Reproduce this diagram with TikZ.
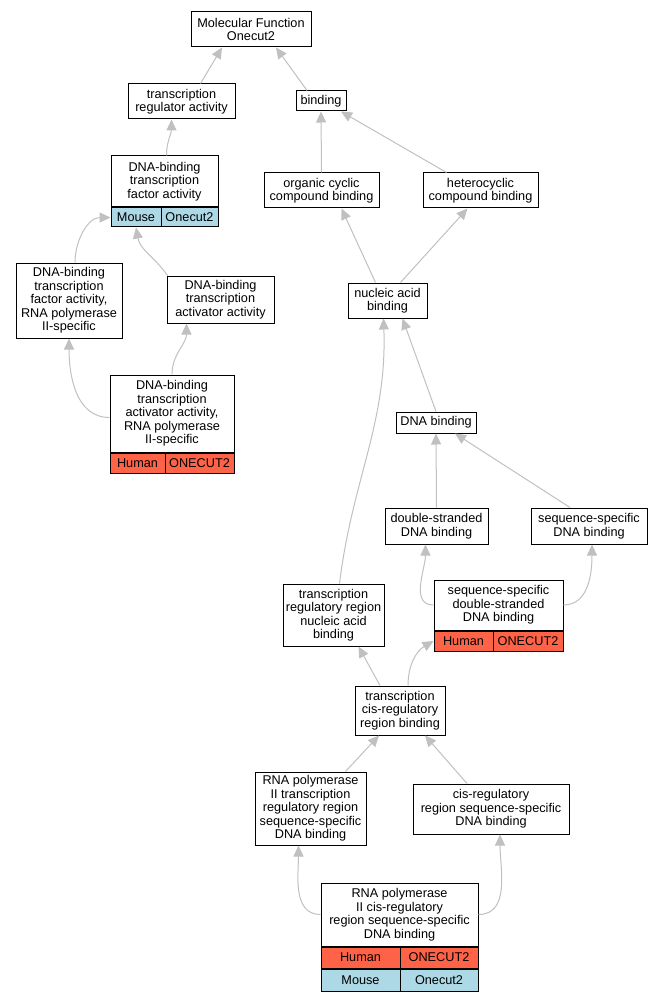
\documentclass[tikz,border=0pt]{standalone}
\usepackage{fontspec}
\setmainfont{Liberation Sans}
\usetikzlibrary{arrows.meta}
\definecolor{human}{HTML}{FF6347}
\definecolor{mouse}{HTML}{ADD8E6}
\definecolor{linkgrey}{HTML}{C0C0C0}
\newcommand\termfont{\fontsize{12.7}{13.5}\selectfont}
\begin{document}
\begin{tikzpicture}[x=1pt, y=-1pt,
		term/.style = {draw, fill=white, align=center, inner sep=1pt, line width=1pt, font=\termfont},
		org/.style = {draw, inner sep=0pt, line width=1pt, font=\termfont},
		link/.style = {draw=linkgrey, line width=1pt, -{Triangle[length=11pt,width=10pt]}}]
		\useasboundingbox (0,0) rectangle (664,1000);
		\node[term, minimum width=120, minimum height=35] (1) at (251,29.5) {Molecular Function\\Onecut2};
		\node[term, minimum width=107, minimum height=35] (2) at (181.5,101.5) {transcription\\regulator activity};
		\node[term, minimum width=50, minimum height=20] (3) at (321,101) {binding};
		\node[term, minimum width=107, minimum height=51] (4) at (164.5,181.5) {DNA-binding\\transcription\\factor activity};
		\node[org, fill=mouse, minimum width=50, minimum height=19, anchor=north west] (4a) at (4.south west) {Mouse};
		\node[org, fill=mouse, minimum width=57, minimum height=19, anchor=north east] (4b) at (4.south east) {Onecut2};
		\node[term, minimum width=115, minimum height=35] (5) at (321.5,190.5) {organic cyclic\\compound binding};
		\node[term, minimum width=115, minimum height=35] (6) at (480.5,190.5) {heterocyclic\\compound binding};
		\node[term, minimum width=106, minimum height=75] (7) at (69,300.5) {DNA-binding\\transcription\\factor activity,\\RNA polymerase\\II-specific};
		\node[term, minimum width=107, minimum height=47] (8) at (220.5,299.5) {DNA-binding\\transcription\\activator activity};
		\node[term, minimum width=79, minimum height=35] (9) at (387.5,300.5) {nucleic acid\\binding};
		\node[term, minimum width=124, minimum height=77] (10) at (172,413.5) {DNA-binding\\transcription\\activator activity,\\RNA polymerase\\II-specific};
		\node[org, fill=human, minimum width=55, minimum height=20, anchor=north west] (10a) at (10.south west) {Human};
		\node[org, fill=human, minimum width=69, minimum height=20, anchor=north east] (10b) at (10.south east) {ONECUT2};
		\node[term, minimum width=80, minimum height=21] (11) at (436,422.5) {DNA binding};
		\node[term, minimum width=103, minimum height=36] (12) at (436.5,526) {double-stranded\\DNA binding};
		\node[term, minimum width=116, minimum height=36] (13) at (589,526) {sequence-specific\\DNA binding};
		\node[term, minimum width=101, minimum height=62] (14) at (333.5,615) {transcription\\regulatory region\\nucleic acid\\binding};
		\node[term, minimum width=129, minimum height=50] (15) at (498.5,605) {sequence-specific\\double-stranded\\DNA binding};
		\node[org, fill=human, minimum width=59, minimum height=20, anchor=north west] (15a) at (15.south west) {Human};
		\node[org, fill=human, minimum width=70, minimum height=20, anchor=north east] (15b) at (15.south east) {ONECUT2};
		\node[term, minimum width=90, minimum height=49] (16) at (400,710.5) {transcription\\cis-regulatory\\region binding};
		\node[term, minimum width=111, minimum height=73] (17) at (310.5,808.5) {RNA polymerase\\II transcription\\regulatory region\\sequence-specific\\DNA binding};
		\node[term, minimum width=156, minimum height=50] (18) at (491,809) {cis-regulatory\\region sequence-specific\\DNA binding};
		\node[term, minimum width=157, minimum height=63] (19) at (399.5,914.5) {RNA polymerase\\II cis-regulatory\\region sequence-specific\\DNA binding};
		\node[org, fill=human, minimum width=79, minimum height=21, anchor=north west] (19a) at (19.south west) {Human};
		\node[org, fill=human, minimum width=78, minimum height=21, anchor=north east] (19b) at (19.south east) {ONECUT2};
		\node[org, fill=mouse, minimum width=79, minimum height=22, anchor=north west] (19c) at (19a.south west) {Mouse};
		\node[org, fill=mouse, minimum width=78, minimum height=22, anchor=north east] (19d) at (19b.south east) {Onecut2};
		\draw[link] ([xshift=19]2.north) -- ([xshift=-29]1.south);
		\draw[link] ([xshift=-14]3.north) -- ([xshift=25]1.south);
		\draw[link] ([xshift=2]4.north) to[out=90, in=-90] ([xshift=-10]2.south);
		\draw[link] (5.north) -- (3.south);
		\draw[link] ([xshift=-34]6.north) -- ([xshift=20]3.south);
		\draw[link] ([xshift=6]7.north) to[out=90, in=180] (4a.west);
		\draw[link] ([xshift=1]8.north west) to[out=125, in=-80] (4a.south);
		\draw[link] ([xshift=-12]9.north) -- ([xshift=20]5.south);
		\draw[link] ([xshift=13]9.north) -- ([xshift=-13]6.south);
		\draw[link] ([yshift=-4]10.west) to[out=180, in=-90] (7.south);
		\draw[link] (10.north) to[out=90, in=-90] ([xshift=-34]8.south);
		\draw[link] (11.north) -- ([xshift=15]9.south);
		\draw[link] (12.north) -- (11.south);
		\draw[link] ([xshift=-19]13.north) -- ([xshift=19]11.south);
		\draw[link] ([xshift=6]14.north) to[out=83, in=-88] ([xshift=-4]9.south);
		\draw[link] (15.west) to[out=180, in=-90] ([xshift=-11]12.south);
		\draw[link] (15.east) to[out=0, in=-90] ([xshift=3]13.south);
		\draw[link] ([xshift=-20]16.north) -- ([xshift=25]14.south);
		\draw[link] ([xshift=8]16.north) to[out=90, in=210] (15a.west);
		\draw[link] ([xshift=35]17.north) -- ([xshift=-21]16.south);
		\draw[link] ([xshift=-24]18.north) -- ([xshift=25]16.south);
		\draw[link] (19.west) to[out=180, in=-90] ([xshift=-12]17.south);
		\draw[link] (19.east) to[out=0, in=-90] ([xshift=9]18.south);
	\end{tikzpicture}
\end{document}
